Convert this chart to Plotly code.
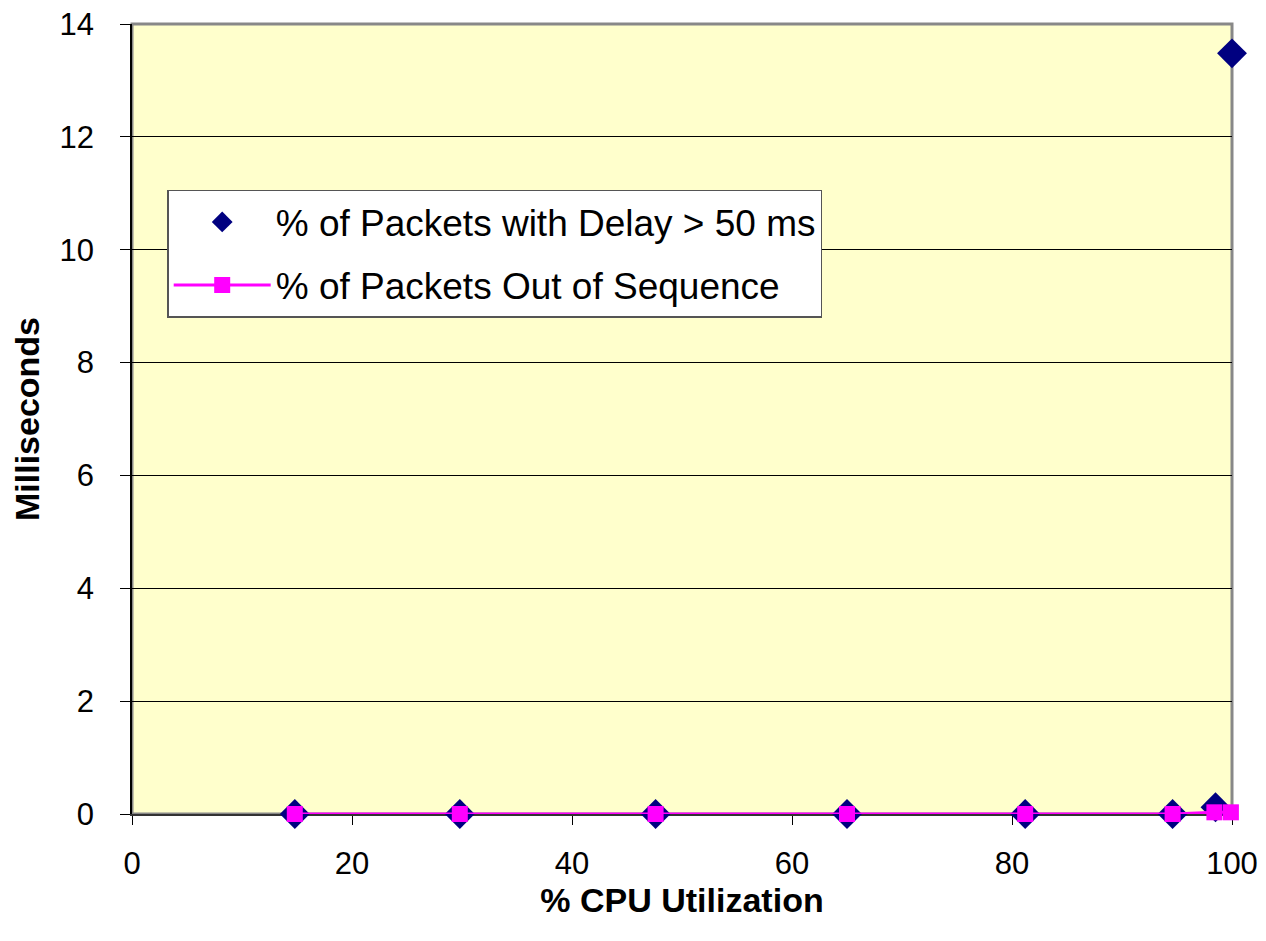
import plotly.graph_objects as go

cpu_delay = [14.8, 29.8, 47.6, 65.0, 81.2, 94.6, 98.5, 100.0]
pct_delay = [0.0, 0.0, 0.0, 0.0, 0.0, 0.0, 0.12, 13.48]

cpu_seq = [14.8, 29.8, 47.6, 65.0, 81.2, 94.6, 98.4, 99.9]
pct_seq = [0.0, 0.0, 0.0, 0.0, 0.0, 0.0, 0.03, 0.03]

x_ticks = [0, 20, 40, 60, 80, 100]
y_ticks = [0, 2, 4, 6, 8, 10, 12, 14]

FONT = "Liberation Sans, Arial, sans-serif"

fig = go.Figure()
fig.add_trace(go.Scatter(
    x=cpu_delay, y=pct_delay, mode="markers",
    name="% of Packets with Delay > 50 ms",
    marker=dict(symbol="diamond", size=23, color="#000080"),
    legendgroup="a", cliponaxis=False,
))
fig.add_trace(go.Scatter(
    x=cpu_seq, y=pct_seq, mode="lines+markers",
    name="% of Packets Out of Sequence",
    line=dict(color="#FF00FF", width=3),
    marker=dict(symbol="square", size=16, color="#FF00FF"),
    legendgroup="b", cliponaxis=False,
))

fig.add_shape(type="rect", xref="paper", yref="paper", x0=0, y0=0, x1=1, y1=1,
              line=dict(color="#888888", width=3), layer="below")

fig.update_layout(
    width=1266, height=941,
    margin=dict(l=132, r=34, t=24, b=127),
    paper_bgcolor="white",
    plot_bgcolor="#FFFFCC",
    font=dict(family=FONT, color="black"),
    showlegend=True,
    legend=dict(
        x=0.032, y=0.79, xanchor="left", yanchor="top",
        bgcolor="white", bordercolor="#555555", borderwidth=1.5,
        font=dict(size=37, family=FONT),
        traceorder="grouped", tracegroupgap=12,
        itemwidth=97,
    ),
    xaxis=dict(
        range=[0, 100], tickvals=x_ticks, ticks="outside", ticklen=9,
        tickcolor="black", tickfont=dict(size=31), showgrid=False,
        showline=True, linecolor="#333333", linewidth=2, zeroline=False,
        layer="below traces", ticklabelstandoff=12, automargin=False,
        title=dict(text="<b>% CPU Utilization</b>", font=dict(size=34), standoff=2),
    ),
    yaxis=dict(
        range=[0, 14], tickvals=y_ticks, ticks="outside", ticklen=10,
        tickcolor="black", tickfont=dict(size=31),
        showgrid=True, gridcolor="black", gridwidth=1,
        showline=True, linecolor="black", linewidth=1.5, zeroline=False,
        layer="below traces", ticklabelstandoff=20, automargin=False,
        title=dict(text="<b>Milliseconds</b>", font=dict(size=34), standoff=10),
    ),
)

fig.write_html("out.html")
